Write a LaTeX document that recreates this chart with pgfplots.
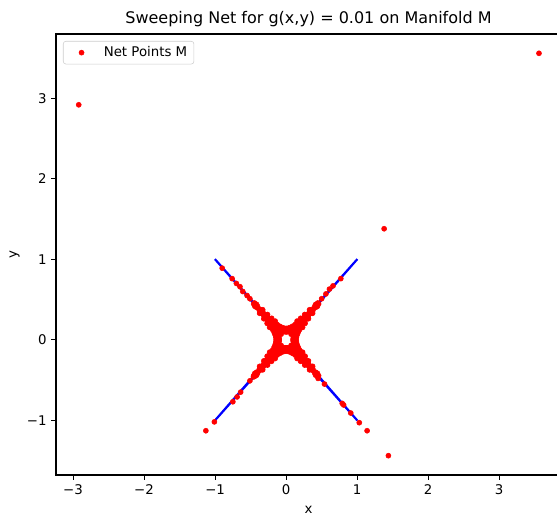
\documentclass[border=0pt]{standalone}
\usepackage{fontspec}
\setmainfont{DejaVu Sans}
\usepackage{pgfplots}
\pgfplotsset{compat=1.18}
\begin{document}
\begin{tikzpicture}
\begin{axis}[
  at={(0pt,0pt)}, anchor=south west,
  scale only axis, width=378.75pt, height=330.75pt,
  xmin=-3.24, xmax=3.87, ymin=-1.68, ymax=3.80,
  axis line style={line width=0.8pt},
  tick style={black, line width=0.8pt},
  tick align=outside, major tick length=3.6pt,
  tick pos=left,
  xtick={-3,-2,-1,0,1,2,3}, xticklabels={−3,−2,−1,0,1,2,3},
  ytick={-1,0,1,2,3}, yticklabels={−1,0,1,2,3},
  ticklabel style={font=\fontsize{10}{12}\selectfont},
  xlabel={x}, ylabel={y},
  label style={font=\fontsize{10}{12}\selectfont},
  xlabel style={yshift=-2pt},
  ylabel style={yshift=-1.5pt},
  title={Sweeping Net for g(x,y) = 0.01 on Manifold M},
  title style={font=\fontsize{12}{14}\selectfont, yshift=-4pt},
  legend style={at={(axis description cs:0,1)}, anchor=north west,
    xshift=5.25pt, yshift=-5.25pt, draw=black!20, rounded corners=2pt,
    font=\fontsize{10}{12}\selectfont, inner xsep=3pt, inner ysep=2pt},
  legend image code/.code={\path (0pt,0pt) (25pt,0pt);
    \fill[red] (10.5pt,0pt) circle (1.9pt);},
]
% the level curves |x^2 - y^2| = 0.01, out to |x| = |y| = 1
\addplot[blue, line width=1.2pt, forget plot] coordinates {(1.005,-1) (0.504,-0.494) (0.311,-0.294) (0.215,-0.190) (0.154,-0.118) (0.119,-0.064) (0.1,0) (0.119,0.064) (0.154,0.118) (0.215,0.190) (0.311,0.294) (0.504,0.494) (1.005,1)};
\addplot[blue, line width=1.2pt, forget plot] coordinates {(-1.005,-1) (-0.504,-0.494) (-0.311,-0.294) (-0.215,-0.190) (-0.154,-0.118) (-0.119,-0.064) (-0.1,0) (-0.119,0.064) (-0.154,0.118) (-0.215,0.190) (-0.311,0.294) (-0.504,0.494) (-1.005,1)};
\addplot[blue, line width=1.2pt, forget plot] coordinates {(-1,1.005) (-0.494,0.504) (-0.294,0.311) (-0.190,0.215) (-0.118,0.154) (-0.064,0.119) (0,0.1) (0.064,0.119) (0.118,0.154) (0.190,0.215) (0.294,0.311) (0.494,0.504) (1,1.005)};
\addplot[blue, line width=1.2pt, forget plot] coordinates {(-1,-1.005) (-0.494,-0.504) (-0.294,-0.311) (-0.190,-0.215) (-0.118,-0.154) (-0.064,-0.119) (0,-0.1) (0.064,-0.119) (0.118,-0.154) (0.190,-0.215) (0.294,-0.311) (0.494,-0.504) (1,-1.005)};

% net points: on |x^2 - y^2| = 0.01, 0.015, 0.02 and 0.03, on the diagonals near the
% centre, the sparse tails and the strays
\addplot[only marks, mark=*, mark size=1.9pt, color=red, mark options={draw=none, fill=red}]
coordinates {
(0.1,0) (-0.1,0) (0,0.1) (0,-0.1)
(0.1005,0.010) (0.1005,-0.010) (-0.1005,0.010) (-0.1005,-0.010) (0.010,0.1005) (-0.010,0.1005) (0.010,-0.1005) (-0.010,-0.1005)
(0.102,0.020) (0.102,-0.020) (-0.102,0.020) (-0.102,-0.020) (0.020,0.102) (-0.020,0.102) (0.020,-0.102) (-0.020,-0.102)
(0.105,0.030) (0.105,-0.030) (-0.105,0.030) (-0.105,-0.030) (0.030,0.105) (-0.030,0.105) (0.030,-0.105) (-0.030,-0.105)
(0.108,0.041) (0.108,-0.041) (-0.108,0.041) (-0.108,-0.041) (0.041,0.108) (-0.041,0.108) (0.041,-0.108) (-0.041,-0.108)
(0.113,0.052) (0.113,-0.052) (-0.113,0.052) (-0.113,-0.052) (0.052,0.113) (-0.052,0.113) (0.052,-0.113) (-0.052,-0.113)
(0.119,0.064) (0.119,-0.064) (-0.119,0.064) (-0.119,-0.064) (0.064,0.119) (-0.064,0.119) (0.064,-0.119) (-0.064,-0.119)
(0.126,0.076) (0.126,-0.076) (-0.126,0.076) (-0.126,-0.076) (0.076,0.126) (-0.076,0.126) (0.076,-0.126) (-0.076,-0.126)
(0.134,0.089) (0.134,-0.089) (-0.134,0.089) (-0.134,-0.089) (0.089,0.134) (-0.089,0.134) (0.089,-0.134) (-0.089,-0.134)
(0.143,0.103) (0.143,-0.103) (-0.143,0.103) (-0.143,-0.103) (0.103,0.143) (-0.103,0.143) (0.103,-0.143) (-0.103,-0.143)
(0.154,0.118) (0.154,-0.118) (-0.154,0.118) (-0.154,-0.118) (0.118,0.154) (-0.118,0.154) (0.118,-0.154) (-0.118,-0.154)
(0.167,0.134) (0.167,-0.134) (-0.167,0.134) (-0.167,-0.134) (0.134,0.167) (-0.134,0.167) (0.134,-0.167) (-0.134,-0.167)
(0.181,0.151) (0.181,-0.151) (-0.181,0.151) (-0.181,-0.151) (0.151,0.181) (-0.151,0.181) (0.151,-0.181) (-0.151,-0.181)
(0.197,0.170) (0.197,-0.170) (-0.197,0.170) (-0.197,-0.170) (0.170,0.197) (-0.170,0.197) (0.170,-0.197) (-0.170,-0.197)
(0.215,0.190) (0.215,-0.190) (-0.215,0.190) (-0.215,-0.190) (0.190,0.215) (-0.190,0.215) (0.190,-0.215) (-0.190,-0.215)
(0.235,0.213) (0.235,-0.213) (-0.235,0.213) (-0.235,-0.213) (0.213,0.235) (-0.213,0.235) (0.213,-0.235) (-0.213,-0.235)
(0.258,0.238) (0.258,-0.238) (-0.258,0.238) (-0.258,-0.238) (0.238,0.258) (-0.238,0.258) (0.238,-0.258) (-0.238,-0.258)
(0.283,0.265) (0.283,-0.265) (-0.283,0.265) (-0.283,-0.265) (0.265,0.283) (-0.265,0.283) (0.265,-0.283) (-0.265,-0.283)
(0.311,0.294) (0.311,-0.294) (-0.311,0.294) (-0.311,-0.294) (0.294,0.311) (-0.294,0.311) (0.294,-0.311) (-0.294,-0.311)
(0.342,0.327) (0.342,-0.327) (-0.342,0.327) (-0.342,-0.327) (0.327,0.342) (-0.327,0.342) (0.327,-0.342) (-0.327,-0.342)
(0.376,0.363) (0.376,-0.363) (-0.376,0.363) (-0.376,-0.363) (0.363,0.376) (-0.363,0.376) (0.363,-0.376) (-0.363,-0.376)
(0.414,0.402) (0.414,-0.402) (-0.414,0.402) (-0.414,-0.402) (0.402,0.414) (-0.402,0.414) (0.402,-0.414) (-0.402,-0.414)
(0.457,0.446) (0.457,-0.446) (-0.457,0.446) (-0.457,-0.446) (0.446,0.457) (-0.446,0.457) (0.446,-0.457) (-0.446,-0.457)
(0.1225,0) (-0.1225,0) (0,0.1225) (0,-0.1225)
(0.125,0.025) (0.125,-0.025) (-0.125,0.025) (-0.125,-0.025) (0.025,0.125) (-0.025,0.125) (0.025,-0.125) (-0.025,-0.125)
(0.132,0.050) (0.132,-0.050) (-0.132,0.050) (-0.132,-0.050) (0.050,0.132) (-0.050,0.132) (0.050,-0.132) (-0.050,-0.132)
(0.145,0.078) (0.145,-0.078) (-0.145,0.078) (-0.145,-0.078) (0.078,0.145) (-0.078,0.145) (0.078,-0.145) (-0.078,-0.145)
(0.164,0.109) (0.164,-0.109) (-0.164,0.109) (-0.164,-0.109) (0.109,0.164) (-0.109,0.164) (0.109,-0.164) (-0.109,-0.164)
(0.189,0.144) (0.189,-0.144) (-0.189,0.144) (-0.189,-0.144) (0.144,0.189) (-0.144,0.189) (0.144,-0.189) (-0.144,-0.189)
(0.222,0.185) (0.222,-0.185) (-0.222,0.185) (-0.222,-0.185) (0.185,0.222) (-0.185,0.222) (0.185,-0.222) (-0.185,-0.222)
(0.263,0.233) (0.263,-0.233) (-0.263,0.233) (-0.263,-0.233) (0.233,0.263) (-0.233,0.263) (0.233,-0.263) (-0.233,-0.263)
(0.1414,0) (-0.1414,0) (0,0.1414) (0,-0.1414)
(0.144,0.029) (0.144,-0.029) (-0.144,0.029) (-0.144,-0.029) (0.029,0.144) (-0.029,0.144) (0.029,-0.144) (-0.029,-0.144)
(0.153,0.058) (0.153,-0.058) (-0.153,0.058) (-0.153,-0.058) (0.058,0.153) (-0.058,0.153) (0.058,-0.153) (-0.058,-0.153)
(0.168,0.090) (0.168,-0.090) (-0.168,0.090) (-0.168,-0.090) (0.090,0.168) (-0.090,0.168) (0.090,-0.168) (-0.090,-0.168)
(0.189,0.126) (0.189,-0.126) (-0.189,0.126) (-0.189,-0.126) (0.126,0.189) (-0.126,0.189) (0.126,-0.189) (-0.126,-0.189)
(0.218,0.166) (0.218,-0.166) (-0.218,0.166) (-0.218,-0.166) (0.166,0.218) (-0.166,0.218) (0.166,-0.218) (-0.166,-0.218)
(0.256,0.214) (0.256,-0.214) (-0.256,0.214) (-0.256,-0.214) (0.214,0.256) (-0.214,0.256) (0.214,-0.256) (-0.214,-0.256)
(0.304,0.269) (0.304,-0.269) (-0.304,0.269) (-0.304,-0.269) (0.269,0.304) (-0.269,0.304) (0.269,-0.304) (-0.269,-0.304)
(0.365,0.336) (0.365,-0.336) (-0.365,0.336) (-0.365,-0.336) (0.336,0.365) (-0.336,0.365) (0.336,-0.365) (-0.336,-0.365)
(0.440,0.416) (0.440,-0.416) (-0.440,0.416) (-0.440,-0.416) (0.416,0.440) (-0.416,0.440) (0.416,-0.440) (-0.416,-0.440)
(0.232,0.154) (0.232,-0.154) (-0.232,0.154) (-0.232,-0.154) (0.154,0.232) (-0.154,0.232) (0.154,-0.232) (-0.154,-0.232)
(0.267,0.204) (0.267,-0.204) (-0.267,0.204) (-0.267,-0.204) (0.204,0.267) (-0.204,0.267) (0.204,-0.267) (-0.204,-0.267)
(0.314,0.262) (0.314,-0.262) (-0.314,0.262) (-0.314,-0.262) (0.262,0.314) (-0.262,0.314) (0.262,-0.314) (-0.262,-0.314)
(0.373,0.330) (0.373,-0.330) (-0.373,0.330) (-0.373,-0.330) (0.330,0.373) (-0.330,0.373) (0.330,-0.373) (-0.330,-0.373)
(0.070,0.070) (0.070,-0.070) (-0.070,0.070) (-0.070,-0.070)
(0.090,0.090) (0.090,-0.090) (-0.090,0.090) (-0.090,-0.090)
(0.110,0.110) (0.110,-0.110) (-0.110,0.110) (-0.110,-0.110)
(0.130,0.130) (0.130,-0.130) (-0.130,0.130) (-0.130,-0.130)
(-0.90,0.89) (-0.76,0.76) (-0.70,0.70) (-0.65,0.66) (-0.61,0.60) (-0.55,0.55) (-0.51,0.51)
(0.77,0.76) (0.66,0.67) (0.61,0.63) (0.56,0.57) (0.50,0.51)
(-1.01,-1.02) (-0.75,-0.77) (-0.69,-0.71) (-0.64,-0.65) (-0.51,-0.51) (-0.46,-0.46)
(0.45,-0.48) (0.54,-0.55) (0.79,-0.79) (0.81,-0.81) (0.91,-0.91) (1.03,-1.03)
(-1.13,-1.13) (1.14,-1.13) (1.44,-1.44) (1.38,1.38) (-2.92,2.92) (3.56,3.56)
};
\addlegendentry{Net Points M}
\end{axis}
\pgfresetboundingbox
\path[use as bounding box] (-42pt,-30.75pt) rectangle (375.75pt,356.25pt);
\end{tikzpicture}
\end{document}
